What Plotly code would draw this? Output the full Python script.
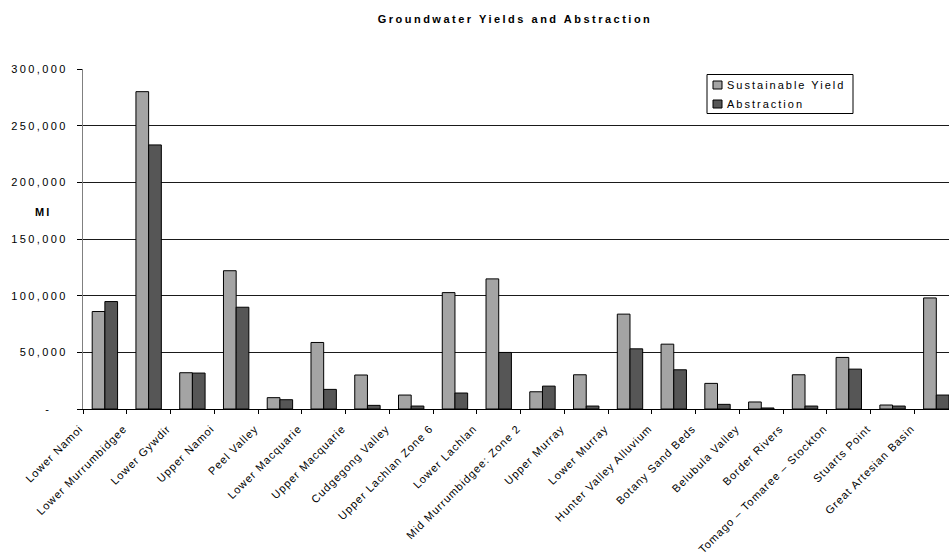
import plotly.graph_objects as go

categories = [
    "Lower Namoi", "Lower Murrumbidgee", "Lower Gywdir", "Upper Namoi", "Peel Valley",
    "Lower Macquarie", "Upper Macquarie", "Cudgegong Valley", "Upper Lachlan Zone 6",
    "Lower Lachlan", "Mid Murrumbidgee: Zone 2", "Upper Murray", "Lower Murray",
    "Hunter Valley Alluvium", "Botany Sand Beds", "Belubula Valley", "Border Rivers",
    "Tomago \u2013 Tomaree \u2013 Stockton", "Stuarts Point", "Great Artesian Basin",
]
sustainable_yield = [
    86000, 280000, 32000, 122000, 10000, 58700, 30000, 12300, 102700, 114800,
    15200, 30200, 83700, 57200, 22600, 6200, 30200, 45500, 3500, 98000,
]
abstraction = [
    94800, 233000, 31700, 89800, 8200, 17300, 3200, 2600, 14100, 49900,
    20200, 2600, 53100, 34600, 4100, 900, 2600, 35200, 2600, 12300,
]
y_tickvals = [0, 50000, 100000, 150000, 200000, 250000, 300000]
y_ticktext = ["-\u00a0\u00a0\u00a0", "50,000", "100,000", "150,000", "200,000", "250,000", "300,000"]
series_names = ["Sustainable Yield", "Abstraction"]
series_colors = ["#a4a4a4", "#565656"]

FONT = "Liberation Sans, Arial, sans-serif"
W, H = 949, 557

fig = go.Figure()
for name, vals, col in zip(series_names, [sustainable_yield, abstraction], series_colors):
    fig.add_trace(go.Bar(
        x=categories, y=vals, name=name,
        marker=dict(color=col, line=dict(color="#000000", width=1)),
        showlegend=False,
    ))

fig.update_layout(
    width=W, height=H,
    margin=dict(l=83, r=0, t=69, b=148, pad=0),
    paper_bgcolor="white", plot_bgcolor="white",
    barmode="group", bargap=0.42, bargroupgap=0,
    font=dict(family=FONT, size=11, color="#000000"),
    title=dict(
        text="<b>Groundwater Yields and Abstraction</b>",
        x=515 / W, xanchor="center", y=1 - 19 / H, yanchor="middle",
        font=dict(family=FONT, size=11, color="#000000"),
    ),
    xaxis=dict(
        type="category",
        range=[-0.5, 19.29],
        tickson="boundaries",
        ticks="outside", ticklen=4, tickcolor="#000000",
        showline=True, linecolor="#000000", linewidth=1,
        showgrid=False,
        tickangle=-45,
        ticklabelshift=-25,
        ticklabelstandoff=8,
        tickfont=dict(family=FONT, size=11, color="#000000"),
    ),
    yaxis=dict(
        range=[0, 300000],
        tickvals=y_tickvals, ticktext=y_ticktext,
        ticks="outside", ticklen=5, tickcolor="#000000",
        showline=True, linecolor="#808080", linewidth=1,
        showgrid=True, gridcolor="#1a1a1a", gridwidth=1,
        zeroline=False,
        ticklabelstandoff=7,
        tickfont=dict(family=FONT, size=11, color="#000000"),
    ),
)

# y-axis unit label
fig.add_annotation(
    text="<b>Ml</b>", xref="paper", yref="paper",
    x=(43 - 83) / (W - 83), y=(409 - 212) / (409 - 69),
    xanchor="center", yanchor="middle", showarrow=False,
    font=dict(family=FONT, size=11, color="#000000"),
)

# Legend (drawn manually to control box and symbol size)
px = lambda v: (v - 83) / (W - 83)
py = lambda v: (409 - v) / (409 - 69)
fig.add_shape(type="rect", xref="paper", yref="paper",
              x0=px(707), x1=px(853), y0=py(113.5), y1=py(74.5),
              line=dict(color="#000000", width=1), fillcolor="white", layer="above")
for i, (name, col) in enumerate(zip(series_names, series_colors)):
    cy = 85 + i * 19
    fig.add_shape(type="rect", xref="paper", yref="paper",
                  x0=px(713), x1=px(722), y0=py(cy + 4), y1=py(cy - 4),
                  line=dict(color="#000000", width=1), fillcolor=col, layer="above")
    fig.add_annotation(
        text=name, xref="paper", yref="paper",
        x=px(725), y=py(cy), xanchor="left", yanchor="middle", align="left",
        showarrow=False, font=dict(family=FONT, size=11, color="#000000"),
    )

post = ("var s=document.createElement('style');"
        "s.textContent='.main-svg text{letter-spacing:2px;}"
        " .main-svg .xtick text{letter-spacing:1px;}"
        " .main-svg .ytick text{letter-spacing:2.4px;}"
        " .main-svg .gtitle{letter-spacing:2.5px;}';"
        "document.head.appendChild(s);")
fig.write_html("out.html", post_script=post)
